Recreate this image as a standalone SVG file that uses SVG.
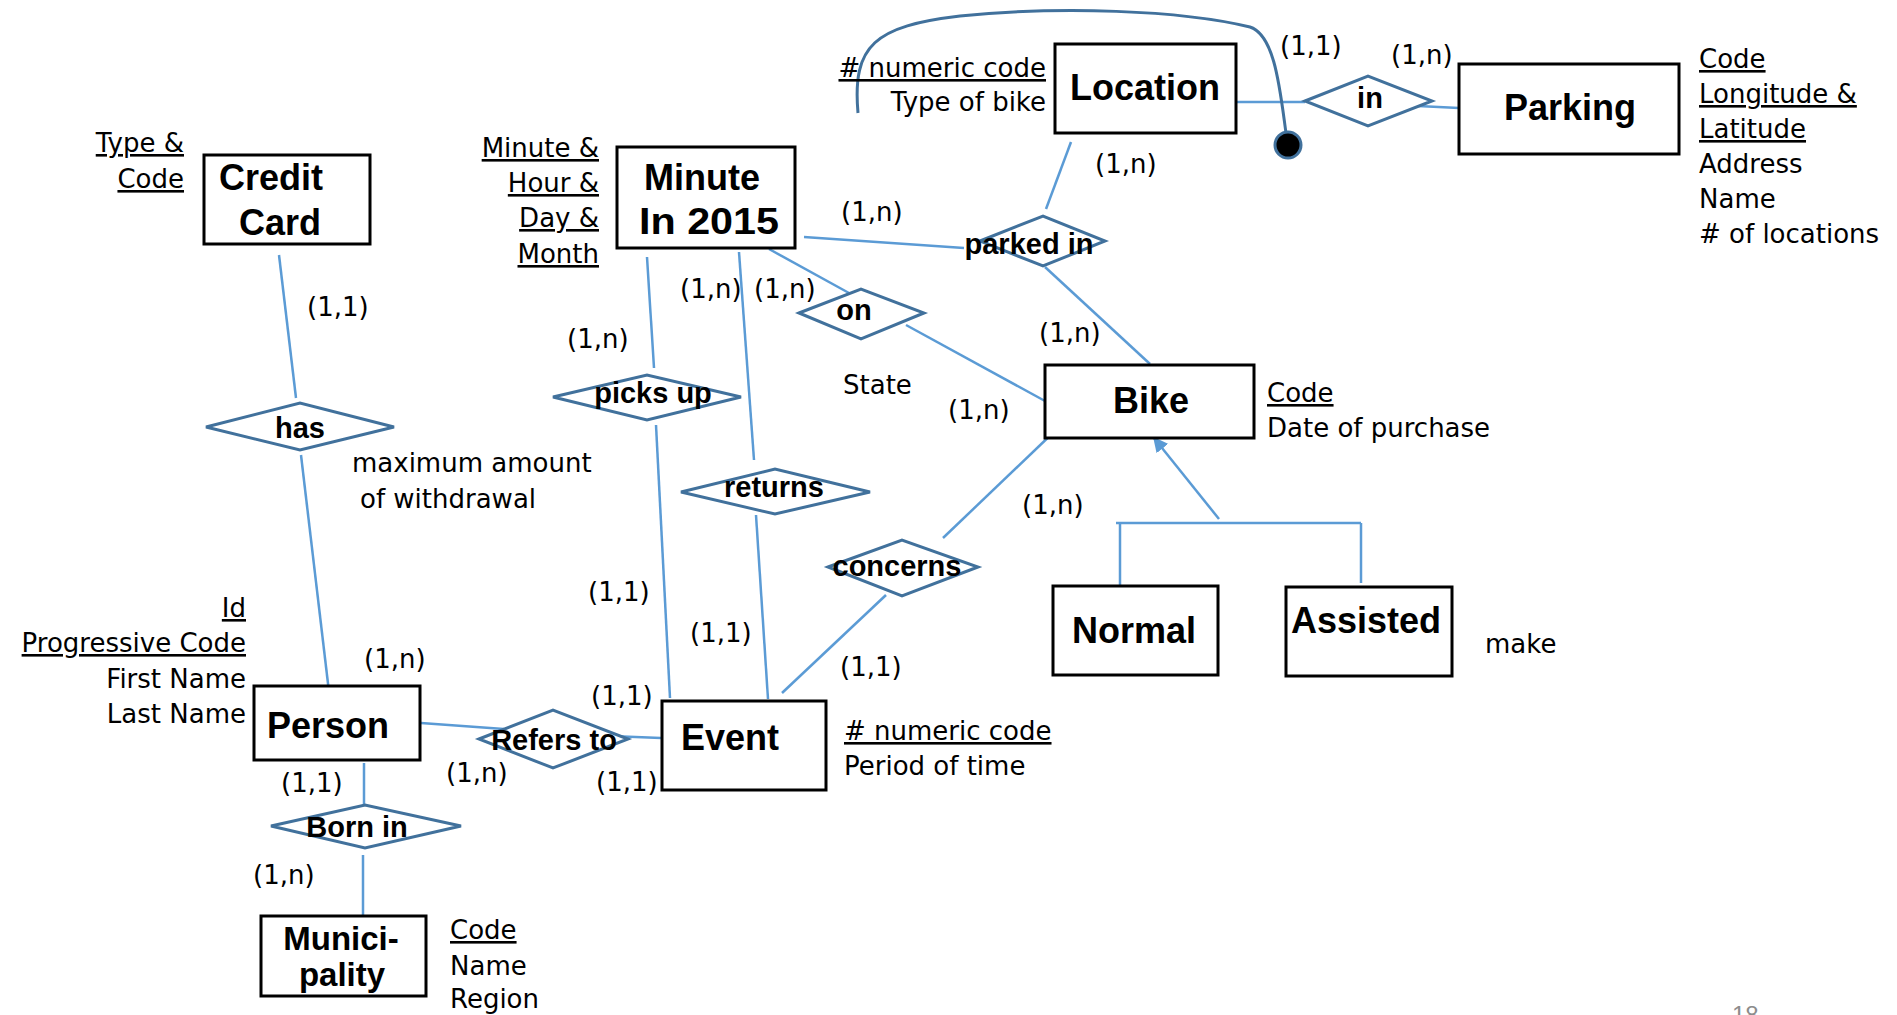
<svg xmlns="http://www.w3.org/2000/svg" width="1897" height="1015" viewBox="0 0 1897 1015">
<style>
.ent rect{fill:#fff;stroke:#000;stroke-width:3}
.rel polygon{fill:#fff;stroke:#41719C;stroke-width:3}
#connectors line,#connectors path{stroke:#5B9BD5;stroke-width:2.5;fill:none}
.t{font-family:"DejaVu Sans","Liberation Sans",sans-serif;font-size:26px;fill:#000}
.u{text-decoration:underline}
.b{font-family:"Liberation Sans",Arial,sans-serif;font-weight:bold;font-size:36px;fill:#000;text-anchor:middle}
.rb{font-family:"Liberation Sans",Arial,sans-serif;font-weight:bold;font-size:29px;fill:#000;text-anchor:middle}
.e{text-anchor:end}
</style>
<defs>
<marker id="arr" viewBox="0 0 10 10" refX="9" refY="5" markerWidth="6" markerHeight="6" orient="auto" markerUnits="strokeWidth">
<path d="M0,0 L10,5 L0,10 z" fill="#5B9BD5"/>
</marker>
</defs>
<rect x="0" y="0" width="1897" height="1015" fill="#fff"/>

<g id="connectors">
<line x1="279" y1="255" x2="296" y2="398"/>
<line x1="301" y1="455" x2="329" y2="692"/>
<line x1="421" y1="723" x2="504" y2="729"/>
<line x1="610" y1="736" x2="661" y2="738"/>
<line x1="364" y1="763" x2="364" y2="805"/>
<line x1="363" y1="855" x2="363" y2="925"/>
<line x1="647" y1="257" x2="654" y2="368"/>
<line x1="656" y1="425" x2="670" y2="698"/>
<line x1="739" y1="252" x2="754" y2="460"/>
<line x1="756" y1="515" x2="768" y2="699"/>
<line x1="886" y1="595" x2="782" y2="693"/>
<line x1="1058" y1="428" x2="943" y2="538"/>
<line x1="769" y1="249" x2="849" y2="293"/>
<line x1="906" y1="325" x2="1045" y2="401"/>
<line x1="804" y1="237" x2="964" y2="248"/>
<line x1="1071" y1="142" x2="1046" y2="209"/>
<line x1="1045" y1="267" x2="1150" y2="364"/>
<line x1="1237" y1="102" x2="1305" y2="102"/>
<line x1="1418" y1="106" x2="1459" y2="108"/>
<line x1="1219" y1="519" x2="1154" y2="438" marker-end="url(#arr)"/>
<line x1="1116" y1="523" x2="1361" y2="523"/>
<line x1="1120" y1="523" x2="1120" y2="585"/>
<line x1="1361" y1="523" x2="1361" y2="583"/>
<path d="M858,113 C852,45 875,26 960,16 C1060,6 1180,10 1250,27 C1275,35 1280,90 1286,133" style="stroke:#41719C;stroke-width:3"/>
<circle cx="1288" cy="145" r="13" fill="#000" stroke="#41719C" stroke-width="3"/>
</g>

<g id="location" class="ent">
<rect x="1055" y="44" width="181" height="89"/>
<text class="b" x="1145" y="100">Location</text>
<text class="t e u" x="1046" y="77">#  numeric code</text>
<text class="t e" x="1046" y="111">Type of bike</text>
</g>

<g id="parking" class="ent">
<rect x="1459" y="64" width="220" height="90"/>
<text class="b" x="1570" y="120">Parking</text>
<text class="t u" x="1699" y="68">Code</text>
<text class="t u" x="1699" y="103">Longitude &amp;</text>
<text class="t u" x="1699" y="138">Latitude</text>
<text class="t" x="1699" y="173">Address</text>
<text class="t" x="1699" y="208">Name</text>
<text class="t" x="1699" y="243"># of locations</text>
</g>

<g id="creditcard" class="ent">
<rect x="204" y="155" width="166" height="89"/>
<text class="b" x="271" y="190">Credit</text>
<text class="b" x="280" y="235">Card</text>
<text class="t e u" x="184" y="152">Type &amp;</text>
<text class="t e u" x="184" y="188">Code</text>
</g>

<g id="minute" class="ent">
<rect x="617" y="147" width="178" height="101"/>
<text class="b" x="702" y="190">Minute</text>
<text class="b" x="709" y="234" textLength="140" lengthAdjust="spacingAndGlyphs">In 2015</text>
<text class="t e u" x="599" y="157">Minute &amp;</text>
<text class="t e u" x="599" y="192">Hour &amp;</text>
<text class="t e u" x="599" y="227">Day &amp;</text>
<text class="t e u" x="599" y="263">Month</text>
</g>

<g id="bike" class="ent">
<rect x="1045" y="365" width="209" height="73"/>
<text class="b" x="1151" y="413">Bike</text>
<text class="t u" x="1267" y="402">Code</text>
<text class="t" x="1267" y="437">Date of purchase</text>
</g>

<g id="normal" class="ent">
<rect x="1053" y="586" width="165" height="89"/>
<text class="b" x="1134" y="643">Normal</text>
</g>

<g id="assisted" class="ent">
<rect x="1286" y="587" width="166" height="89"/>
<text class="b" x="1366" y="633">Assisted</text>
<text class="t" x="1485" y="653">make</text>
</g>

<g id="person" class="ent">
<rect x="254" y="686" width="166" height="74"/>
<text class="b" x="328" y="738">Person</text>
<text class="t e u" x="246" y="617">Id</text>
<text class="t e u" x="246" y="652">Progressive Code</text>
<text class="t e" x="246" y="688">First Name</text>
<text class="t e" x="246" y="723">Last Name</text>
</g>

<g id="event" class="ent">
<rect x="662" y="701" width="164" height="89"/>
<text class="b" x="730" y="750">Event</text>
<text class="t u" x="844" y="740"># numeric code</text>
<text class="t" x="844" y="775">Period of time</text>
</g>

<g id="municipality" class="ent">
<rect x="261" y="916" width="165" height="80"/>
<text class="b" x="341" y="950" style="font-size:33px">Munici-</text>
<text class="b" x="342" y="986" style="font-size:33px">pality</text>
<text class="t u" x="450" y="939">Code</text>
<text class="t" x="450" y="975">Name</text>
<text class="t" x="450" y="1008">Region</text>
</g>

<g id="has" class="rel">
<polygon points="206,427 300,403 394,427 300,450"/>
<text class="rb" x="300" y="438">has</text>
<text class="t" x="352" y="472">maximum amount</text>
<text class="t" x="360" y="508">of withdrawal</text>
</g>

<g id="picksup" class="rel">
<polygon points="553,397 647,375 741,397 647,420"/>
<text class="rb" x="653" y="403">picks up</text>
</g>

<g id="returns" class="rel">
<polygon points="681,492 775,469 870,492 775,514"/>
<text class="rb" x="774" y="497">returns</text>
</g>

<g id="concerns" class="rel">
<polygon points="828,567 902,540 978,567 902,596"/>
<text class="rb" x="897" y="576">concerns</text>
</g>

<g id="on" class="rel">
<polygon points="799,313 861,289 924,313 861,339"/>
<text class="rb" x="854" y="320">on</text>
<text class="t" x="843" y="394">State</text>
</g>

<g id="parkedin" class="rel">
<polygon points="980,241 1043,216 1105,241 1043,266"/>
<text class="rb" x="1029" y="254">parked in</text>
</g>

<g id="in" class="rel">
<polygon points="1305,101 1368,76 1432,101 1368,126"/>
<text class="rb" x="1370" y="108">in</text>
</g>

<g id="refersto" class="rel">
<polygon points="479,739 553,710 628,739 553,768"/>
<text class="rb" x="554" y="750">Refers to</text>
</g>

<g id="bornin" class="rel">
<polygon points="271,826 365,805 461,826 365,848"/>
<text class="rb" x="357" y="837">Born in</text>
</g>

<g id="cardinalities">
<text class="t" x="1280" y="55">(1,1)</text>
<text class="t" x="1391" y="64">(1,n)</text>
<text class="t" x="1095" y="173">(1,n)</text>
<text class="t" x="841" y="221">(1,n)</text>
<text class="t" x="307" y="316">(1,1)</text>
<text class="t" x="680" y="298">(1,n)</text>
<text class="t" x="754" y="298">(1,n)</text>
<text class="t" x="567" y="348">(1,n)</text>
<text class="t" x="1039" y="342">(1,n)</text>
<text class="t" x="948" y="419">(1,n)</text>
<text class="t" x="1022" y="514">(1,n)</text>
<text class="t" x="588" y="601">(1,1)</text>
<text class="t" x="690" y="642">(1,1)</text>
<text class="t" x="840" y="676">(1,1)</text>
<text class="t" x="364" y="668">(1,n)</text>
<text class="t" x="591" y="705">(1,1)</text>
<text class="t" x="281" y="792">(1,1)</text>
<text class="t" x="446" y="782">(1,n)</text>
<text class="t" x="596" y="791">(1,1)</text>
<text class="t" x="253" y="884">(1,n)</text>
</g>

<text x="1732" y="1023" font-family="Liberation Sans, Arial, sans-serif" font-size="24" fill="#8c8c8c">18</text>
</svg>
